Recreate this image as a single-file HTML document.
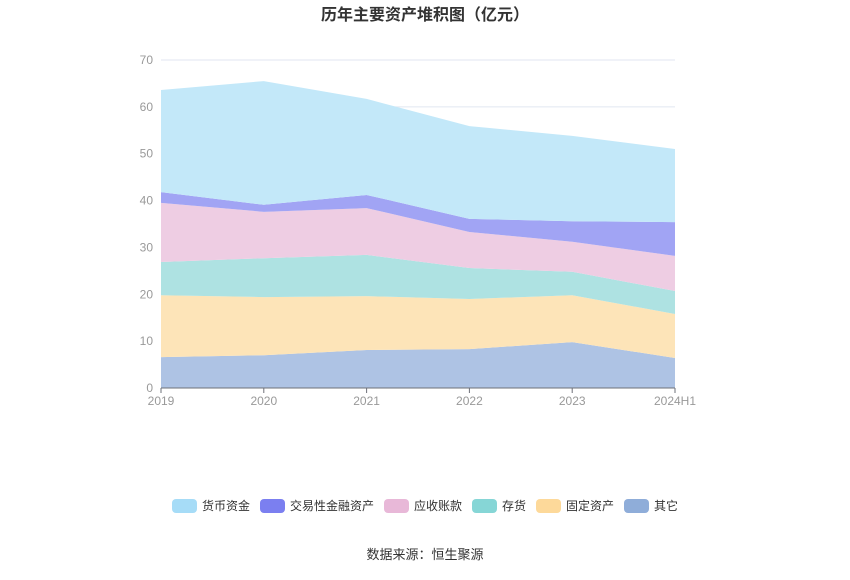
<!DOCTYPE html>
<html><head><meta charset="utf-8"><style>
body{margin:0;width:850px;height:575px;background:#fff;font-family:"Liberation Sans","Noto Sans CJK SC",sans-serif;overflow:hidden}
</style></head><body>
<svg width="850" height="575" id="c" font-family="Liberation Sans, Noto Sans CJK SC, sans-serif">
<text x="425" y="20" text-anchor="middle" font-size="16" font-weight="bold" fill="#333">历年主要资产堆积图（亿元）</text>
<g id="grid"></g><g id="areas"></g><g id="axes"></g><g id="legend"></g>
<text x="425" y="559" text-anchor="middle" font-size="13" fill="#333">数据来源：恒生聚源</text>
</svg>
<script>
const categories=["2019","2020","2021","2022","2023","2024H1"];
const seriesNames=["其它","固定资产","存货","应收账款","交易性金融资产","货币资金"];
const other=[6.6,7.0,8.1,8.3,9.8,6.4];
const fixed=[13.2,12.4,11.5,10.7,10.0,9.4];
const inventory=[7.1,8.3,8.8,6.6,5.0,4.9];
const receivable=[12.6,9.9,10.0,7.7,6.4,7.5];
const trading=[2.3,1.5,2.8,2.8,4.4,7.2];
const cash=[21.8,26.4,20.5,19.8,18.2,15.6];
const yTicks=[0,10,20,30,40,50,60,70];
const fills=["#aec3e4","#fde4b8","#aee2e2","#eecde3","#a1a4f4","#c3e8f9"];
const legendColors=["#a6dcf7","#7b7ff0","#e8b8d8","#86d6d6","#fdd99a","#8fadd9"];
const NS="http://www.w3.org/2000/svg";
const x0=161,x1=675,yB=388,yT=60,yMax=70;
const X=i=>x0+(x1-x0)*i/(categories.length-1);
const Y=v=>yB-(yB-yT)*v/yMax;
function mk(t,a,p){const e=document.createElementNS(NS,t);for(const k in a)e.setAttribute(k,a[k]);p.appendChild(e);return e;}
const grid=document.getElementById('grid'),axes=document.getElementById('axes'),areas=document.getElementById('areas'),legend=document.getElementById('legend');
yTicks.forEach(v=>{
 const l=mk('line',{x1:x0,x2:x1,y1:Y(v),y2:Y(v),stroke:'#e0e6f1'},grid);
 
 
 const t=mk('text',{x:153,y:Y(v)+4,'text-anchor':'end','font-size':12,fill:'#999'},axes);
 t.textContent=v;
 
 
});
const data=[other,fixed,inventory,receivable,trading,cash];
const keys=["other","fixed-assets","inventory","receivables","trading-assets","cash"];
let base=categories.map(()=>0);
data.forEach((s,si)=>{
 const top=base.map((b,i)=>b+s[i]);
 let d=top.map((v,i)=>(i?'L':'M')+X(i)+','+Y(v)).join('');
 for(let i=categories.length-1;i>=0;i--)d+='L'+X(i)+','+Y(base[i]);
 const p=mk('path',{d:d+'Z',fill:fills[si]},areas);
 
 
 base=top;
});
const ax=mk('line',{x1:x0,x2:x1,y1:yB,y2:yB,stroke:'#6e7079'},axes);


categories.forEach((c,i)=>{
 const tk=mk('line',{x1:X(i),x2:X(i),y1:yB,y2:yB+5,stroke:'#6e7079'},axes);
 
 
 const t=mk('text',{x:X(i),y:yB+17,'text-anchor':'middle','font-size':12,fill:'#999'},axes);
 t.textContent=c;
 
 
});
const legNames=["货币资金","交易性金融资产","应收账款","存货","固定资产","其它"];
const widths=legNames.map(n=>25+5+n.length*12);
const gap=10;let tot=widths.reduce((a,b)=>a+b,0)+gap*(widths.length-1);
let lx=425-tot/2;
legNames.forEach((n,i)=>{
 const g=mk('g',{},legend);
 
 
 mk('rect',{x:lx,y:499,width:25,height:14,rx:4,fill:legendColors[i]},g);
 const t=mk('text',{x:lx+30,y:510,'font-size':12,fill:'#333'},g);
 t.textContent=n;
 lx+=widths[i]+gap;
});
</script>
</body></html>
